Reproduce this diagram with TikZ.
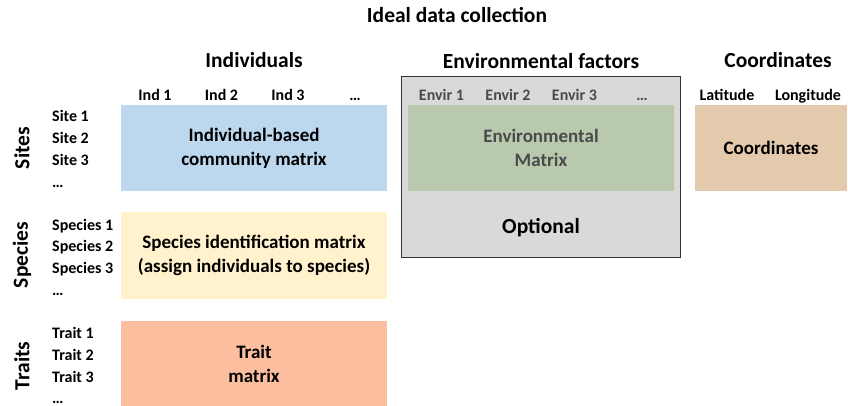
\documentclass[tikz,border=0pt]{standalone}
\usepackage{fontspec}
\setmainfont{Carlito}
\usetikzlibrary{positioning}

\definecolor{indblue}{HTML}{BDD7EE}
\definecolor{spyellow}{HTML}{FFF2CC}
\definecolor{traitred}{HTML}{FBBE9F}
\definecolor{envgreen}{HTML}{B9C9AE}
\definecolor{optgrey}{HTML}{D9D9D9}
\definecolor{coordtan}{HTML}{E4CAAD}
\definecolor{envtext}{HTML}{4A4A4A}

\begin{document}
\begin{tikzpicture}[x=1pt, y=-1pt,
  header/.style={font=\bfseries\fontsize{21.5}{26}\selectfont, anchor=base},
  sidehead/.style={font=\bfseries\fontsize{21.5}{26}\selectfont, rotate=90},
  collabel/.style={font=\bfseries\fontsize{16}{19}\selectfont, anchor=base},
  rowlabel/.style={font=\bfseries\fontsize{16}{19}\selectfont, anchor=base west, inner sep=0pt},
  matrixbox/.style={inner sep=0pt, align=center, font=\bfseries\fontsize{19}{24}\selectfont}]
  \useasboundingbox (0,0) rectangle (848,406);

  % headers
  \node[header] (title) at (457,23) {Ideal data collection};
  \node[header] (indhead) at (254,68) {Individuals};
  \node[header] (envhead) at (541,69) {Environmental factors};
  \node[header] (coordhead) at (778,68) {Coordinates};

  % optional environmental block
  \node[draw=black!80, line width=1pt, fill=optgrey, minimum width=279, minimum height=180] (envbox) at (540.5,167) {};
  \node[header] (optional) at (541,233) {Optional};

  % matrices
  \node[matrixbox, fill=indblue, minimum width=266, minimum height=86] (indmat) at (254,148) {Individual-based\\community matrix};
  \node[matrixbox, fill=spyellow, minimum width=266, minimum height=87] (spmat) at (254,255.5) {Species identification matrix\\(assign individuals to species)};
  \node[matrixbox, fill=traitred, minimum width=266, minimum height=85] (traitmat) at (254,363.5) {Trait\\matrix};
  \node[matrixbox, fill=envgreen, text=envtext, minimum width=266, minimum height=86] (envmat) at (541,148) {Environmental\\Matrix};
  \node[matrixbox, fill=coordtan, minimum width=152, minimum height=86] (coordmat) at (771,148) {Coordinates};

  % column labels
  \foreach \i in {1,2,3}
    \node[collabel] (ind\i) at ({88.5+66.5*\i},101) {Ind \i};
  \node[collabel] (inddots) at (355,101) {\ldots};
  \foreach \i in {1,2,3}
    \node[collabel, text=envtext] (envir\i) at ({375+66.5*\i},101) {Envir \i};
  \node[collabel, text=envtext] (envirdots) at (642,101) {\ldots};
  \node[collabel] (lat) at (727,101) {Latitude};
  \node[collabel] (lon) at (808,101) {Longitude};

  % row labels
  \foreach \i in {1,2,3}
    \node[rowlabel] (site\i) at (52,{100+22*\i}) {Site \i};
  \node[rowlabel] (sitedots) at (52,188) {\ldots};
  \foreach \i in {1,2,3}
    \node[rowlabel] (species\i) at (52,{208.5+21.5*\i}) {Species \i};
  \node[rowlabel] (speciesdots) at (52,295) {\ldots};
  \foreach \i in {1,2,3}
    \node[rowlabel] (trait\i) at (52,{316+22*\i}) {Trait \i};
  \node[rowlabel] (traitdots) at (52,403) {\ldots};

  % side headers
  \node[sidehead] (sites) at (22,148) {Sites};
  \node[sidehead] (species) at (22,255) {Species};
  \node[sidehead] (traits) at (22,366) {Traits};
\end{tikzpicture}
\end{document}
